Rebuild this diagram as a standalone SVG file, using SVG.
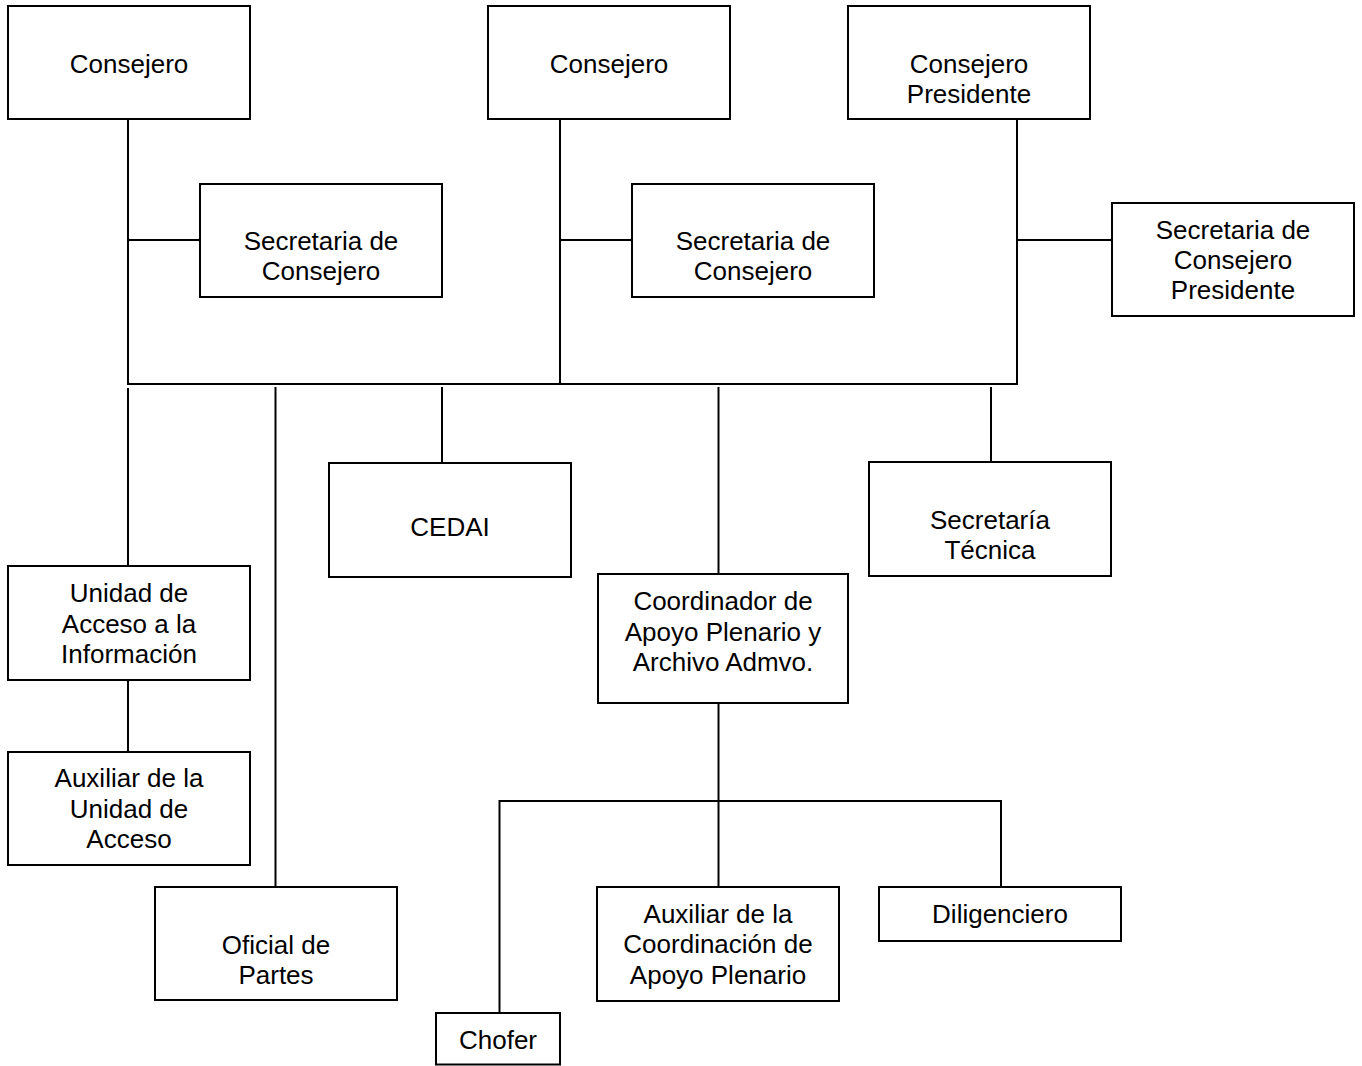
<svg xmlns="http://www.w3.org/2000/svg" width="1362" height="1066" viewBox="0 0 1362 1066">
<style>
rect{fill:#fff;stroke:#000;stroke-width:2}
line,polyline{stroke:#000;stroke-width:2;fill:none}
text{font-family:"Liberation Sans",Arial,sans-serif;font-size:26px;fill:#000;text-anchor:middle}
</style>
<rect x="0" y="0" width="1362" height="1066" style="stroke:none"/>
<g id="connectors">
<line x1="128" y1="119" x2="128" y2="385"/>
<line x1="128" y1="240" x2="200" y2="240"/>
<line x1="560" y1="119" x2="560" y2="385"/>
<line x1="560" y1="240" x2="632" y2="240"/>
<polyline points="1017,119 1017,384 127,384"/>
<line x1="1017" y1="240" x2="1112" y2="240"/>
<line x1="128" y1="388" x2="128" y2="566"/>
<line x1="275.5" y1="387" x2="275.5" y2="887"/>
<line x1="442" y1="387" x2="442" y2="463"/>
<line x1="718.5" y1="387" x2="718.5" y2="574"/>
<line x1="991" y1="387" x2="991" y2="462"/>
<line x1="128" y1="680" x2="128" y2="752"/>
<line x1="718.5" y1="703" x2="718.5" y2="887"/>
<polyline points="499.5,1013 499.5,801 1001,801 1001,887"/>
</g>
<g id="consejero1"><rect x="8" y="6" width="242" height="113"/><text x="129" y="72.5">Consejero</text></g>
<g id="consejero2"><rect x="488" y="6" width="242" height="113"/><text x="609" y="72.5">Consejero</text></g>
<g id="consejero-presidente"><rect x="848" y="6" width="242" height="113"/><text x="969" y="72.5">Consejero</text><text x="969" y="102.5">Presidente</text></g>
<g id="secretaria1"><rect x="200" y="184" width="242" height="113"/><text x="321" y="250">Secretaria de</text><text x="321" y="280">Consejero</text></g>
<g id="secretaria2"><rect x="632" y="184" width="242" height="113"/><text x="753" y="250">Secretaria de</text><text x="753" y="280">Consejero</text></g>
<g id="secretaria-presidente"><rect x="1112" y="203" width="242" height="113"/><text x="1233" y="238.5">Secretaria de</text><text x="1233" y="268.5">Consejero</text><text x="1233" y="298.5">Presidente</text></g>
<g id="cedai"><rect x="329" y="463" width="242" height="114"/><text x="450" y="536">CEDAI</text></g>
<g id="secretaria-tecnica"><rect x="869" y="462" width="242" height="114"/><text x="990" y="529">Secretaría</text><text x="990" y="558.5">Técnica</text></g>
<g id="unidad-acceso"><rect x="8" y="566" width="242" height="114"/><text x="129" y="602">Unidad de</text><text x="129" y="632.5">Acceso a la</text><text x="129" y="662.5">Información</text></g>
<g id="coordinador"><rect x="598" y="574" width="250" height="129"/><text x="723" y="610">Coordinador de</text><text x="723" y="640.5">Apoyo Plenario y</text><text x="723" y="670.5">Archivo Admvo.</text></g>
<g id="auxiliar-unidad"><rect x="8" y="752" width="242" height="113"/><text x="129" y="787">Auxiliar de la</text><text x="129" y="817.5">Unidad de</text><text x="129" y="848">Acceso</text></g>
<g id="oficial-partes"><rect x="155" y="887" width="242" height="113"/><text x="276" y="954">Oficial de</text><text x="276" y="984">Partes</text></g>
<g id="auxiliar-coordinacion"><rect x="597" y="887" width="242" height="114"/><text x="718" y="922.5">Auxiliar de la</text><text x="718" y="953">Coordinación de</text><text x="718" y="983.5">Apoyo Plenario</text></g>
<g id="diligenciero"><rect x="879" y="887" width="242" height="54"/><text x="1000" y="922.5">Diligenciero</text></g>
<g id="chofer"><rect x="436" y="1013" width="124" height="51.5"/><text x="498" y="1048.5">Chofer</text></g>
</svg>
